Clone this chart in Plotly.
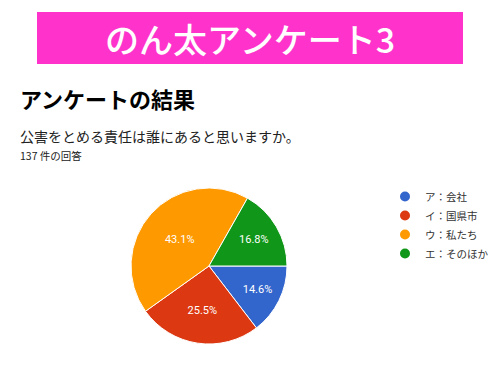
import plotly.graph_objects as go

labels = ["ア：会社", "イ：国県市", "ウ：私たち", "エ：そのほか"]
counts = [20, 35, 59, 23]
colors = ["#3366CC", "#DC3912", "#FF9900", "#109618"]

header_text = "のん太アンケート3"
title_text = "アンケートの結果"
question_text = "公害をとめる責任は誰にあると思いますか。"
resp_text = "137 件の回答"

W, H = 500, 375
font_jp = "Noto Sans CJK JP"

fig = go.Figure()
fig.add_trace(go.Pie(
    labels=labels, values=counts, sort=False,
    direction="clockwise", rotation=90,
    marker=dict(colors=colors, line=dict(color="white", width=1)),
    texttemplate="%{percent:.1%}", textposition="inside",
    insidetextorientation="horizontal",
    textfont=dict(color="white", size=11, family="Roboto, Arial"),
    domain=dict(x=[131/W, 287/W], y=[(H-344)/H, (H-188)/H]),
    hoverinfo="skip", showlegend=False,
))
for lab, col in zip(labels, colors):
    fig.add_trace(go.Scatter(
        x=[None], y=[None], mode="markers", name=lab,
        marker=dict(symbol="circle", size=10, color=col),
        showlegend=True, hoverinfo="skip",
    ))

fig.update_layout(
    width=W, height=H, margin=dict(l=0, r=0, t=0, b=0, autoexpand=False),
    paper_bgcolor="white", plot_bgcolor="rgba(0,0,0,0)",
    xaxis=dict(visible=False), yaxis=dict(visible=False),
    showlegend=True,
    legend=dict(x=385/W, y=(H-182)/H, xanchor="left", yanchor="top",
                font=dict(family=font_jp, size=10.5, color="#333333"),
                itemwidth=30, tracegroupgap=0, bgcolor="rgba(0,0,0,0)"),
    shapes=[dict(type="rect", xref="paper", yref="paper",
                 x0=37/W, x1=463/W, y0=(H-64)/H, y1=(H-12)/H,
                 fillcolor="#FF33CC", line=dict(width=0))],
    annotations=[
        dict(text=header_text, x=0.5, y=(H-38)/H, xref="paper", yref="paper",
             xanchor="center", yanchor="middle", showarrow=False,
             font=dict(family=font_jp, size=34, color="white", weight=500)),
        dict(text="<b>" + title_text + "</b>", x=18/W, y=(H-98)/H, xref="paper", yref="paper",
             xanchor="left", yanchor="middle", showarrow=False,
             font=dict(family=font_jp, size=22, color="black")),
        dict(text=question_text, x=18/W, y=(H-136)/H, xref="paper", yref="paper",
             xanchor="left", yanchor="middle", showarrow=False,
             font=dict(family=font_jp, size=14, color="#222222")),
        dict(text=resp_text, x=18/W, y=(H-155)/H, xref="paper", yref="paper",
             xanchor="left", yanchor="middle", showarrow=False,
             font=dict(family=font_jp, size=10.5, color="#222222")),
    ],
)

fig.write_html("out.html")
